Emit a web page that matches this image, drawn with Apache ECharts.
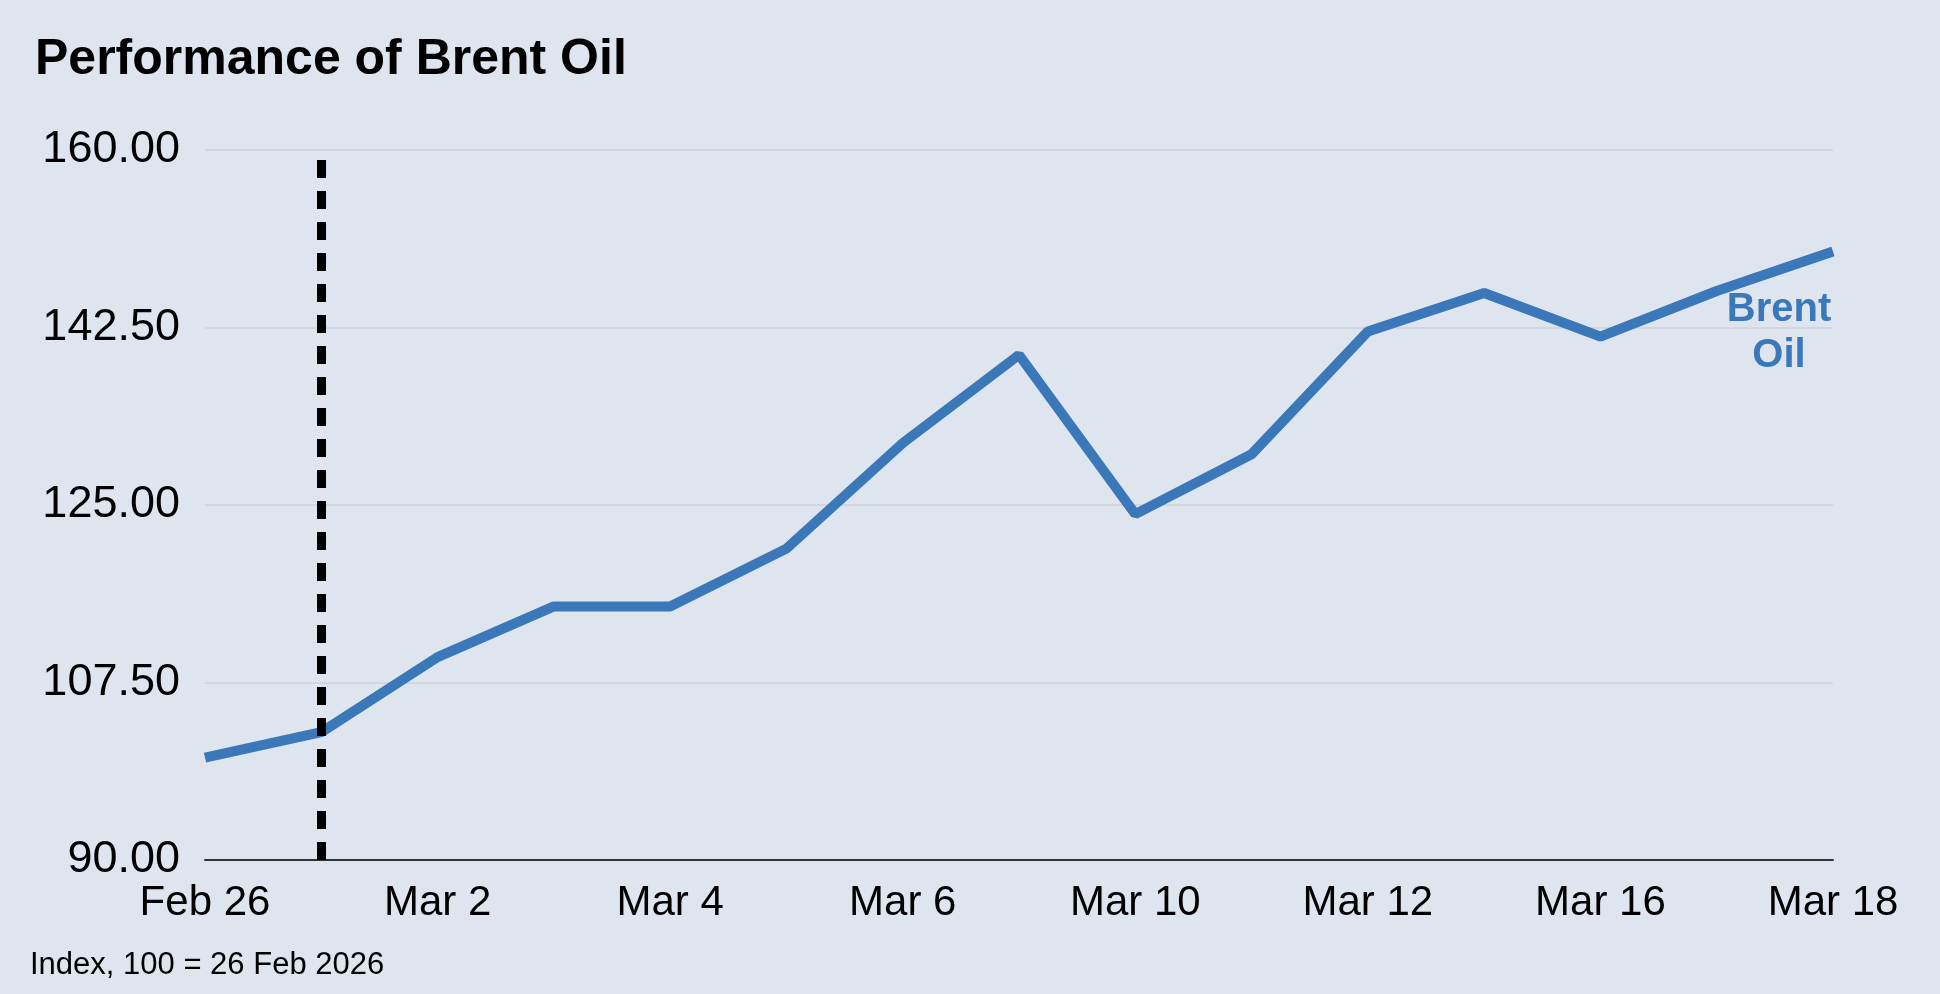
<!DOCTYPE html>
<html><head><meta charset="utf-8">
<script src="https://cdn.jsdelivr.net/npm/echarts@6/dist/echarts.min.js"></script>
<style>html,body{margin:0;padding:0;background:#dfe5ee}#c{width:1940px;height:994px}</style>
</head><body><div id="c"></div>
<script>
const categories = ['Feb 26','Feb 27','Mar 2','Mar 3','Mar 4','Mar 5','Mar 6','Mar 9','Mar 10','Mar 11','Mar 12','Mar 13','Mar 16','Mar 17','Mar 18'];
const brentValues = [100.1,102.6,110.0,115.0,115.0,120.7,131.1,139.8,124.1,130.0,142.1,145.9,141.6,146.1,150.0];
const yTicks = [90,107.5,125,142.5,160];
const markerDate = 'Feb 27';
const font = 'Helvetica, Arial, "Liberation Sans", sans-serif';
const chart = echarts.init(document.getElementById('c'));
chart.setOption({
  backgroundColor:'#dfe5ee',
  animation:false,
  title:{text:'Performance of Brent Oil',left:30,top:30,textStyle:{fontFamily:font,fontSize:50,fontWeight:'bold',color:'#000'}},
  graphic:[{type:'text',left:30,top:950,style:{text:'Index, 100 = 26 Feb 2026',fontFamily:font,fontSize:31,fill:'#000'}}],
  grid:{left:205,right:107,top:150,bottom:134},
  xAxis:{type:'category',data:categories,boundaryGap:false,
    axisLine:{lineStyle:{color:'#333',width:2}},axisTick:{show:false},
    axisLabel:{interval:1,color:'#000',fontFamily:font,fontSize:42,margin:22,showMinLabel:true,showMaxLabel:true}},
  yAxis:{type:'value',min:yTicks[0],max:yTicks[yTicks.length-1],interval:17.5,
    axisLine:{show:false},axisTick:{show:false},
    splitLine:{lineStyle:{color:'#cdd1da',width:1.5}},
    axisLabel:{formatter:v=>v.toFixed(2),color:'#000',fontFamily:font,fontSize:45,margin:25}},
  series:[{type:'line',data:brentValues,symbol:'none',
    lineStyle:{color:'#3a78ba',width:10},
    endLabel:{show:true,formatter:'Brent\nOil',align:'center',offset:[-62,82],color:'#3a78ba',fontFamily:font,fontSize:40,fontWeight:'bold',lineHeight:46},
    markLine:{symbol:'none',silent:true,label:{show:false},
      lineStyle:{color:'#000',width:9,type:[18,13]},
      data:[{xAxis:markerDate}]}}]
});
</script></body></html>
